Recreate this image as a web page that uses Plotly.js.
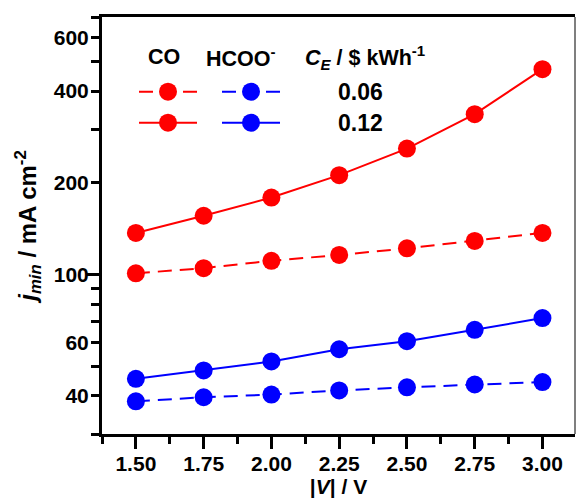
<!DOCTYPE html>
<html>
<head>
<meta charset="utf-8">
<script src="https://cdn.plot.ly/plotly-3.0.1.min.js"></script>
<style>html,body{margin:0;padding:0;background:#fff;}#chart{width:577px;height:499px;}</style>
</head>
<body>
<div id="chart"></div>
<script>
// ---- data ----
const voltage = [1.5, 1.75, 2.0, 2.25, 2.5, 2.75, 3.0];
const coCE006 = [101, 105, 111, 116, 122, 129, 137];
const coCE012 = [137, 156, 179, 212, 259, 336, 472];
const fmCE006 = [38.4, 39.6, 40.4, 41.7, 42.7, 43.6, 44.4];
const fmCE012 = [45.5, 48.5, 51.9, 56.9, 60.5, 65.9, 72.0];
const xTickVals = [1.5, 1.75, 2.0, 2.25, 2.5, 2.75, 3.0];
const xTickText = ['1.50', '1.75', '2.00', '2.25', '2.50', '2.75', '3.00'];
const yTickVals = [30, 40, 50, 60, 70, 80, 90, 100, 200, 300, 400, 500, 600, 700];
const yTickText = ['', '40', '', '60', '', '', '', '100', '200', '', '400', '', '600', ''];
const legendHeaders = ['CO', 'HCOO<sup>-</sup>', '<i>C</i><sub><i>E</i></sub> / $ kWh<sup>-1</sup>'];
const legendRows = ['0.06', '0.12'];

const FONT = 'Liberation Sans, Arial, sans-serif';
const RED = '#ff0000', BLUE = '#0000ff';
const DASH = '14px,8px';

// plot-area pixel geometry helpers (for legend decorations only)
const L = 102, R = 575, T = 17, B = 434;
const px = x => (x - L) / (R - L);
const py = y => (B - y) / (B - T);

function trace(y, color, dashed) {
  return {
    x: voltage, y: y, type: 'scatter', mode: 'lines+markers',
    line: {color: color, width: 2, dash: dashed ? DASH : 'solid'},
    marker: {color: color, size: 18},
    showlegend: false, hoverinfo: 'skip'
  };
}

const data = [
  trace(fmCE006, BLUE, true),
  trace(fmCE012, BLUE, false),
  trace(coCE006, RED, true),
  trace(coCE012, RED, false)
];

// legend decorations
const shapes = [];
const annotations = [];
const rowY = [91.7, 122.7];
const cols = [{x0: 139, x1: 197, c: 168, color: RED}, {x0: 222, x1: 280, c: 251, color: BLUE}];
rowY.forEach((yy, i) => {
  cols.forEach(col => {
    shapes.push({type: 'line', xref: 'paper', yref: 'paper', x0: px(col.x0), x1: px(col.x1), y0: py(yy), y1: py(yy),
      line: {color: col.color, width: 2, dash: i === 0 ? DASH : 'solid'}});
    shapes.push({type: 'circle', xref: 'paper', yref: 'paper', xsizemode: 'pixel', ysizemode: 'pixel',
      xanchor: px(col.c), yanchor: py(yy), x0: -9, x1: 9, y0: -9, y1: 9,
      fillcolor: col.color, line: {width: 0}});
  });
  annotations.push({xref: 'paper', yref: 'paper', x: px(360.5), y: py(yy), xanchor: 'center', yanchor: 'middle',
    text: legendRows[i], showarrow: false, font: {family: FONT, size: 23, color: '#000', weight: 'bold'}});
});
const headerX = [145.5, 204, 302.5];
legendHeaders.forEach((t, i) => {
  annotations.push({xref: 'paper', yref: 'paper', x: px(headerX[i]), y: py(57.5), xanchor: 'left', yanchor: 'middle',
    text: t, showarrow: false, font: {family: FONT, size: 21.5, color: '#000', weight: 'bold'}});
});
// thin right frame edge
shapes.push({type: 'line', xref: 'paper', yref: 'paper', x0: 1, x1: 1, y0: 0, y1: 1, line: {color: '#555', width: 1.5}});

const tickFont = {family: FONT, size: 21, color: '#000', weight: 'bold'};

const layout = {
  width: 577, height: 499,
  margin: {l: L, r: 577 - R, t: T, b: 499 - B, pad: 0},
  paper_bgcolor: '#fff', plot_bgcolor: '#fff',
  showlegend: false,
  xaxis: {
    range: [1.375, 3.12], tickmode: 'array', tickvals: xTickVals, ticktext: xTickText,
    ticks: 'outside', ticklen: 12, tickwidth: 3, tickcolor: '#000',
    showline: true, linewidth: 3, linecolor: '#000', mirror: true,
    showgrid: false, zeroline: false, tickfont: tickFont, ticklabelstandoff: -3,
    minor: {tickmode: 'linear', tick0: 1.375, dtick: 0.25, ticks: 'outside', ticklen: 7, tickwidth: 3, tickcolor: '#000', showgrid: false},
    title: {text: '|<i>V</i>| / V', font: {family: FONT, size: 21, color: '#000', weight: 'bold'}, standoff: 6}
  },
  yaxis: {
    type: 'log', range: [Math.log10(30), Math.log10(700)],
    tickmode: 'array', tickvals: yTickVals, ticktext: yTickText,
    ticks: 'outside', ticklen: 8, tickwidth: 3, tickcolor: '#000',
    showline: true, linewidth: 3, linecolor: '#000', mirror: false,
    showgrid: false, zeroline: false, tickfont: tickFont, ticklabelstandoff: -2,
    title: {text: '<b><i>j</i><sub><i>min</i></sub> / mA cm<sup>-2</sup></b>', font: {family: FONT, size: 24, color: '#000', weight: 'bold'}, standoff: 11}
  },
  yaxis2: {
    type: 'log', range: [Math.log10(30), Math.log10(700)], overlaying: 'y', side: 'left',
    tickmode: 'array', tickvals: [100], ticktext: [''],
    ticks: 'outside', ticklen: 15, tickwidth: 3, tickcolor: '#000',
    showline: false, showgrid: false, zeroline: false
  },
  shapes: shapes,
  annotations: annotations
};

// invisible helper trace that activates the overlay axis carrying the long decade tick
data.push({x: [2], y: [100], yaxis: 'y2', type: 'scatter', mode: 'markers', marker: {opacity: 0}, showlegend: false, hoverinfo: 'skip'});

Plotly.newPlot('chart', data, layout, {staticPlot: true, displayModeBar: false});
</script>
</body>
</html>
